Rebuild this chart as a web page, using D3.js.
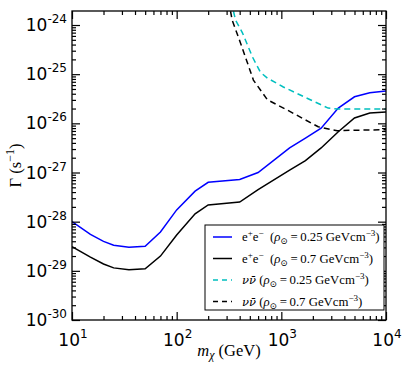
<!DOCTYPE html>
<html><head><meta charset="utf-8">
<script src="https://cdn.jsdelivr.net/npm/d3@7"></script>
<style>body{margin:0;background:#fff}</style></head>
<body><svg id="c" width="403" height="382"></svg>
<script>
// ---- data (log10 of Γ in s^-1) ----
const massEE = [10,15,20,25,35,50,70,100,150,200,400,600,1200,1700,2400,3500,5000,7000,10000];
const logEE025 = [-28.0,-28.26,-28.40,-28.48,-28.52,-28.50,-28.21,-27.76,-27.38,-27.20,-27.14,-27.0,-26.50,-26.30,-26.10,-25.69,-25.46,-25.38,-25.34];
const logEE07 = [-28.51,-28.72,-28.86,-28.94,-28.98,-28.96,-28.70,-28.27,-27.84,-27.66,-27.60,-27.35,-26.95,-26.76,-26.50,-26.17,-25.89,-25.79,-25.77];
const massNu025 = [349,365,425,530,631,736,1045,1890,2800,3490,5000,10000];
const logNu025 = [-23.72,-23.90,-24.16,-24.65,-24.96,-25.08,-25.26,-25.52,-25.69,-25.71,-25.71,-25.71];
const massNu07 = [327,339,408,541,736,1140,2250,3410,5000,10000];
const logNu07 = [-23.72,-23.90,-24.37,-25.12,-25.52,-25.73,-26.07,-26.15,-26.14,-26.13];
const xTickExp = [1,2,3,4];
const yTickExp = [-30,-29,-28,-27,-26,-25,-24];
const legendLabels = [
  [["e",""],["+","sup"],["e",""],["\u2212","sup"],["\u2002(",""],["\u03c1","it"],["\u2299","sub"],["\u2009=\u20090.25 GeVcm",""],["\u22123","sup"],[")",""]],
  [["e",""],["+","sup"],["e",""],["\u2212","sup"],["\u2002(",""],["\u03c1","it"],["\u2299","sub"],["\u2009=\u20090.7 GeVcm",""],["\u22123","sup"],[")",""]],
  [["\u03bd\u03bd\u0304","itbar"],[" (",""],["\u03c1","it"],["\u2299","sub"],["\u2009=\u20090.25 GeVcm",""],["\u22123","sup"],[")",""]],
  [["\u03bd\u03bd\u0304","itbar"],[" (",""],["\u03c1","it"],["\u2299","sub"],["\u2009=\u20090.7 GeVcm",""],["\u22123","sup"],[")",""]]
];

const svg = d3.select("#c");
const L=72, R=386, T=11, B=320;
const x = d3.scaleLog().domain([10,1e4]).range([L,R]);
const y = d3.scaleLog().domain([1e-30, Math.pow(10,-23.715)]).range([B,T]);

svg.append("defs").append("clipPath").attr("id","clip")
  .append("rect").attr("x",L).attr("y",T).attr("width",R-L).attr("height",B-T);

const series = [
  {m:massEE, v:logEE025, color:"#0000ff", dash:null},
  {m:massEE, v:logEE07, color:"#000000", dash:null},
  {m:massNu025, v:logNu025, color:"#00bfbf", dash:"6,4"},
  {m:massNu07, v:logNu07, color:"#000000", dash:"6,4"}
];
const line = d3.line().x(d=>x(d[0])).y(d=>y(Math.pow(10,d[1])));
const g = svg.append("g").attr("clip-path","url(#clip)");
series.forEach(s=>{
  g.append("path").datum(s.m.map((m,i)=>[m,s.v[i]]))
   .attr("d",line).attr("fill","none").attr("stroke",s.color)
   .attr("stroke-width",1.5).attr("stroke-dasharray",s.dash);
});

// ticks
const xMajor = xTickExp.map(e=>Math.pow(10,e));
const xMinor = [];
for(let e=1;e<4;e++) for(let k=2;k<10;k++) xMinor.push(k*Math.pow(10,e));
const yMajor = yTickExp.map(e=>Math.pow(10,e));
const yMinor = [];
for(let e=-30;e<-23;e++) for(let k=2;k<10;k++){const v=k*Math.pow(10,e); if(v<=y.domain()[1]) yMinor.push(v);}

function ax(gen, tr, vals, size){
  svg.append("g").attr("transform",tr)
   .call(gen.tickValues(vals).tickSize(size).tickSizeOuter(0).tickFormat(""))
   .call(s=>s.select(".domain").remove())
   .call(s=>s.selectAll("line").attr("stroke","#000").attr("stroke-width",1.2));
}
ax(d3.axisBottom(x), `translate(0,${B})`, xMajor, -8);
ax(d3.axisBottom(x), `translate(0,${B})`, xMinor, -4);
ax(d3.axisTop(x), `translate(0,${T})`, xMajor, -8);
ax(d3.axisTop(x), `translate(0,${T})`, xMinor, -4);
ax(d3.axisLeft(y), `translate(${L},0)`, yMajor, -8);
ax(d3.axisLeft(y), `translate(${L},0)`, yMinor, -4);
ax(d3.axisRight(y), `translate(${R},0)`, yMajor, -8);
ax(d3.axisRight(y), `translate(${R},0)`, yMinor, -4);

svg.append("rect").attr("x",L).attr("y",T).attr("width",R-L).attr("height",B-T)
  .attr("fill","none").attr("stroke","#000").attr("stroke-width",1.3);

// tick labels
const tf = "'DejaVu Sans', sans-serif";
yTickExp.forEach(e=>{
  const t = svg.append("text").attr("x",67).attr("y",y(Math.pow(10,e))+6)
    .attr("text-anchor","end").style("font-family",tf).attr("font-size",17).attr("fill","#000");
  t.append("tspan").text("10");
  t.append("tspan").attr("dy",-8).attr("font-size",12).text("-"+Math.abs(e));
});
xTickExp.forEach(e=>{
  const t = svg.append("text").attr("x",x(Math.pow(10,e))+1).attr("y",346)
    .attr("text-anchor","middle").style("font-family",tf).attr("font-size",17).attr("fill","#000");
  t.append("tspan").text("10");
  t.append("tspan").attr("dy",-8).attr("font-size",12).text(e);
});

// axis labels
const sf = "'Liberation Serif', 'DejaVu Serif', serif";
const xl = svg.append("text").attr("x",229).attr("y",356).attr("text-anchor","middle")
  .style("font-family",sf).attr("font-size",16.5);
xl.append("tspan").attr("font-style","italic").text("m");
xl.append("tspan").attr("font-style","italic").attr("font-size",12).attr("dy",3).text("\u03c7");
xl.append("tspan").attr("dy",-3).text(" (GeV)");

const yl = svg.append("text").attr("transform",`translate(21,${(T+B)/2}) rotate(-90)`)
  .attr("text-anchor","middle").style("font-family",sf).attr("font-size",16.5);
yl.append("tspan").text("\u0393 (s");
yl.append("tspan").attr("dy",-7).attr("font-size",12).text("\u22121");
yl.append("tspan").attr("dy",7).text(")");

// legend
const lg = svg.append("g");
lg.append("rect").attr("x",205).attr("y",225).attr("width",179).attr("height",85)
  .attr("fill","#fff").attr("stroke","#000").attr("stroke-width",1);
legendLabels.forEach((parts,i)=>{
  const yy = 237 + i*21.5;
  const s = series[i];
  lg.append("line").attr("x1",213).attr("x2",232).attr("y1",yy).attr("y2",yy)
    .attr("stroke",s.color).attr("stroke-width",1.5).attr("stroke-dasharray",s.dash?"5,4":null);
  const t = lg.append("text").attr("x",242).attr("y",yy+4).style("font-family",sf).attr("font-size",12.8);
  let cur = 0;
  parts.forEach(([txt,kind])=>{
    const sp = t.append("tspan").text(txt);
    let target = 0;
    if(kind==="sup"){ target=-5; sp.attr("font-size",9); }
    else if(kind==="sub"){ target=3; sp.attr("font-size",9); }
    else if(kind==="it"){ sp.attr("font-style","italic"); }
    else if(kind==="itbar"){ sp.attr("font-style","italic").style("font-family","'DejaVu Serif', serif").attr("font-size",11.5); }
    sp.attr("dy", target-cur); cur=target;
  });
});
</script></body></html>
